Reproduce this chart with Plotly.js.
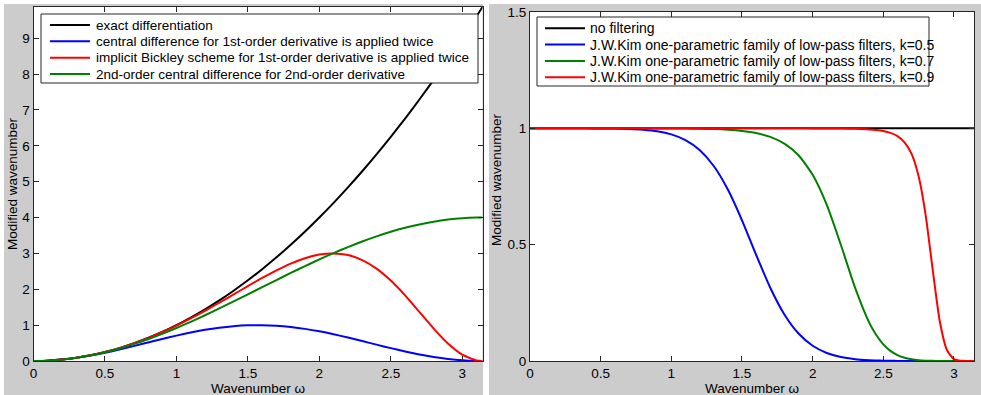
<!DOCTYPE html>
<html>
<head>
<meta charset="utf-8">
<script src="https://cdn.plot.ly/plotly-3.0.1.min.js"></script>
<style>html,body{margin:0;padding:0;background:#fff;}#chart{width:981px;height:395px;}</style>
</head>
<body>
<div id="chart"></div>
<script>
// ---------- Left panel data: modified wavenumber of 2nd derivative ----------
const omegaL = [0,0.1,0.2,0.3,0.4,0.5,0.6,0.7,0.8,0.9,1.0,1.1,1.2,1.3,1.4,1.5,1.6,1.7,1.8,1.9,2.0,2.1,2.2,2.3,2.4,2.5,2.6,2.7,2.8,2.9,3.0,3.1,3.14159];
const exactDiff = [0,0.01,0.04,0.09,0.16,0.25,0.36,0.49,0.64,0.81,1.0,1.21,1.44,1.69,1.96,2.25,2.56,2.89,3.24,3.61,4.0,4.41,4.84,5.29,5.76,6.25,6.76,7.29,7.84,8.41,9.0,9.61,9.8696];
const centralTwice = [0,0.00997,0.03947,0.08733,0.15165,0.22985,0.31882,0.41502,0.51460,0.61360,0.70807,0.79426,0.86870,0.92845,0.97111,0.99499,0.99915,0.98339,0.94838,0.89548,0.82682,0.74513,0.65367,0.55609,0.45625,0.35817,0.26574,0.18265,0.11222,0.05724,0.01991,0.00173,0];
const bickleyTwice = [0,0.0100,0.0400,0.08999,0.15996,0.24983,0.35945,0.48861,0.63687,0.80352,0.98752,1.18740,1.40094,1.62519,1.85613,2.08837,2.31518,2.52781,2.71587,2.86669,2.96639,2.99989,2.95286,2.81354,2.57574,2.24281,1.83031,1.36871,0.90263,0.48649,0.17570,0.01553,0];
const central2nd = [0,0.01000,0.03986,0.08932,0.15788,0.24484,0.34932,0.47032,0.60658,0.75678,0.91940,1.09280,1.27528,1.46500,1.66006,1.85852,2.05840,2.25768,2.45440,2.64658,2.83230,3.00970,3.17700,3.33256,3.47478,3.60228,3.71378,3.80814,3.88444,3.94192,3.97998,3.99828,4.0];
const namesL = ["exact differentiation","central difference for 1st-order derivative is applied twice","implicit Bickley scheme for 1st-order derivative is applied twice","2nd-order central difference for 2nd-order derivative"];
const colorsL = ["#000000","#0000ff","#ff0000","#008000"];

// ---------- Right panel data: filter transfer functions ----------
const omegaR = [0,0.1,0.2,0.3,0.4,0.5,0.6,0.7,0.8,0.9,1.0,1.1,1.2,1.3,1.4,1.5,1.6,1.7,1.8,1.9,2.0,2.1,2.2,2.3,2.4,2.45,2.5,2.55,2.6,2.65,2.7,2.75,2.8,2.85,2.9,2.95,3.0,3.05,3.1,3.14159];
const noFilterX = [0,3.14159];
const noFilter = [1,1];
const kimK05 = [1,1,1,1,0.9999,0.9997,0.9991,0.9976,0.9943,0.9875,0.9741,0.9496,0.9070,0.8382,0.7369,0.6047,0.4563,0.3149,0.1998,0.1180,0.0655,0.0344,0.0171,0.0080,0.0034,0.0022,0.0013,0.0008,0.0005,0.0002,0.0001,0.0001,0,0,0,0,0,0,0,0];
const kimK07 = [1,1,1,1,1,1,1,0.9999,0.9999,0.9998,0.9995,0.9991,0.9982,0.9966,0.9938,0.9887,0.9796,0.9633,0.9345,0.8843,0.8002,0.6706,0.4984,0.3151,0.1648,0.1116,0.0714,0.0433,0.0255,0.0138,0.0073,0.0034,0.0015,0.0006,0.0002,0.0001,0,0,0,0];
const kimK09 = [1,1,1,1,1,1,1,1,1,1,1,1,1,1,1,1,1,1,1,0.9999,0.9998,0.9996,0.9991,0.9980,0.9955,0.9929,0.9884,0.9804,0.9667,0.9396,0.8901,0.7929,0.6252,0.3893,0.1685,0.0475,0.0080,0.0006,0,0];
const namesR = ["no filtering","J.W.Kim one-parametric family of low-pass filters, k=0.5","J.W.Kim one-parametric family of low-pass filters, k=0.7","J.W.Kim one-parametric family of low-pass filters, k=0.9"];
const colorsR = ["#000000","#0000ff","#008000","#ff0000"];

const xTicks = [0,0.5,1,1.5,2,2.5,3];
const xTickText = ["0","0.5","1","1.5","2","2.5","3"];
const yTicksL = [0,1,2,3,4,5,6,7,8,9];
const yTicksR = [0,0.5,1,1.5];
const yTickTextR = ["0","0.5","1","1.5"];

const FONT = "Liberation Sans, Arial, Helvetica, sans-serif";
const FS = 13.5;
const FSR = 14;
const W = 981, H = 395;
const px = v => v / W;
const py = v => 1 - v / H;

function line(x, y, color, name, xa, ya) {
  return {x: x, y: y, type: "scatter", mode: "lines", name: name,
    line: {color: color, width: 2, shape: "spline", smoothing: 0.6},
    xaxis: xa, yaxis: ya, hoverinfo: "skip", showlegend: false};
}

const traces = [
  line(omegaL, exactDiff, colorsL[0], namesL[0], "x", "y"),
  line(omegaL, centralTwice, colorsL[1], namesL[1], "x", "y"),
  line(omegaL, bickleyTwice, colorsL[2], namesL[2], "x", "y"),
  line(omegaL, central2nd, colorsL[3], namesL[3], "x", "y"),
  line(noFilterX, noFilter, colorsR[0], namesR[0], "x2", "y2"),
  line(omegaR, kimK05, colorsR[1], namesR[1], "x2", "y2"),
  line(omegaR, kimK07, colorsR[2], namesR[2], "x2", "y2"),
  line(omegaR, kimK09, colorsR[3], namesR[3], "x2", "y2")
];

const axBase = {
  showline: true, linecolor: "#262626", linewidth: 1, mirror: "ticks",
  ticks: "inside", ticklen: 5, tickwidth: 1, tickcolor: "#262626",
  showgrid: false, zeroline: false, fixedrange: true,
  tickfont: {family: FONT, size: FS, color: "#000"}
};

const shapes = [
  {type: "rect", xref: "paper", yref: "paper", x0: 0, x1: px(4), y0: 0, y1: 1, fillcolor: "#ffffff", line: {width: 0}, layer: "below"},
  {type: "rect", xref: "paper", yref: "paper", x0: 0, x1: 1, y0: py(4), y1: 1, fillcolor: "#ffffff", line: {width: 0}, layer: "below"},
  {type: "rect", xref: "paper", yref: "paper", x0: px(483), x1: px(489), y0: 0, y1: 1, fillcolor: "#ffffff", line: {width: 0}, layer: "below"}
];
const annotations = [
  {text: "Modified wavenumber", x: px(12), y: py(184), textangle: -90},
  {text: "Wavenumber ω", x: px(258), y: py(388.5)},
  {text: "Modified wavenumber", x: px(496), y: py(180), textangle: -90},
  {text: "Wavenumber ω", x: px(752), y: py(388.5)}
].map(a => Object.assign({xref: "paper", yref: "paper", showarrow: false, xanchor: "center", yanchor: "middle",
  font: {family: FONT, size: FS, color: "#000"}}, a));

// custom legend boxes (MATLAB-style)
function addLegend(box, sampleX0, sampleX1, textX, rows, names, colors, fs) {
  shapes.push({type: "rect", xref: "paper", yref: "paper", x0: px(box[0]), x1: px(box[1]), y0: py(box[3]), y1: py(box[2]),
    fillcolor: "#ffffff", line: {color: "#262626", width: 1}, layer: "above"});
  names.forEach((n, i) => {
    shapes.push({type: "line", xref: "paper", yref: "paper", x0: px(sampleX0), x1: px(sampleX1), y0: py(rows[i]), y1: py(rows[i]),
      line: {color: colors[i], width: 2}, layer: "above"});
    annotations.push({text: n, xref: "paper", yref: "paper", x: px(textX), y: py(rows[i]), xanchor: "left", yanchor: "middle",
      showarrow: false, font: {family: FONT, size: fs, color: "#000"}});
  });
}
addLegend([41, 478, 14, 83], 50, 90, 94, [25, 41.3, 57.7, 74], namesL, colorsL, FS);
addLegend([537, 929, 17, 86], 545, 585, 588, [28.3, 44.5, 61, 77.3], namesR, colorsR, FSR);

const layout = {
  width: W, height: H,
  margin: {l: 0, r: 0, t: 0, b: 0, pad: 0},
  paper_bgcolor: "#cccccc", plot_bgcolor: "#ffffff",
  font: {family: FONT, size: FS, color: "#000"},
  showlegend: false,
  xaxis: Object.assign({}, axBase, {domain: [px(33.5), px(482.5)], range: [0, Math.PI], tickvals: xTicks, ticktext: xTickText, anchor: "y"}),
  yaxis: Object.assign({}, axBase, {domain: [py(361), py(7)], range: [0, 9.8696], tickvals: yTicksL, anchor: "x"}),
  xaxis2: Object.assign({}, axBase, {domain: [px(530), px(974)], range: [0, Math.PI], tickvals: xTicks, ticktext: xTickText, anchor: "y2"}),
  yaxis2: Object.assign({}, axBase, {domain: [py(361), py(12)], range: [0, 1.5], tickvals: yTicksR, ticktext: yTickTextR, anchor: "x2"}),
  shapes: shapes,
  annotations: annotations
};

Plotly.newPlot("chart", traces, layout, {displayModeBar: false, staticPlot: true});
</script>
</body>
</html>
